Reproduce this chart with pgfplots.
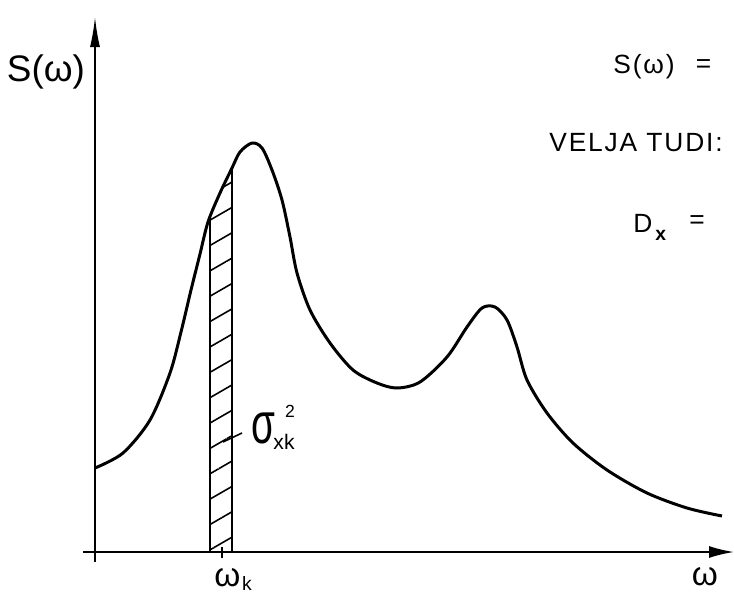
\documentclass[border=0pt]{standalone}
\usepackage{fontspec}
\setmainfont{Liberation Sans}
\newfontfamily\lettering[LetterSpace=7]{Liberation Sans}
\usepackage{pgfplots}
\pgfplotsset{compat=1.18}
\usetikzlibrary{arrows.meta,patterns.meta}
\begin{document}
\begin{tikzpicture}
\begin{axis}[
  name=main,
  width=14.68cm, height=11.9cm, scale only axis,
  xmin=-95, xmax=639, ymin=-43, ymax=552,
  hide axis, clip=false,
]
% hatched band sigma_xk^2
\addplot[draw=none, pattern={Lines[angle=30,distance=12.5pt,line width=0.9pt]}]
  coordinates {(115,0)(115,336)(125,359)(137,384)(137,0)} \closedcycle;
\addplot[line width=1.4pt] coordinates {(115,0)(115,336)};
\addplot[line width=1.4pt] coordinates {(137,0)(137,384)};
% axes
\addplot[line width=1pt, -{Latex[length=0.5cm,width=0.24cm]}] coordinates {(-12,0)(639,0)};
\addplot[line width=1pt, -{Latex[length=0.6cm,width=0.2cm]}] coordinates {(0,-10)(0,535)};
\addplot[line width=1.2pt] coordinates {(127,-6)(127,5)};
% spectral density
\addplot[line width=1.7pt, smooth, tension=0.5] coordinates {
(0,84)(28,99)(55,132)(75,179)(86,220)(96,262)(105,298)(113,330)(125,359)
(137,384)(145,400)(157,409)(167,404)(177,382)(187,352)(195,315)(202,279)
(215,242)(235,209)(258,182)(282,169)(302,164)(325,170)(352,195)(372,225)
(387,244)(400,245)(412,232)(422,205)(432,172)(452,139)(478,109)(512,82)
(552,59)(592,44)(627,36)};
% leader
\addplot[line width=0.9pt] coordinates {(128,110)(147,119)};
% labels
\node[font=\fontsize{21}{21}\selectfont] at (axis cs:-49,480) {S(ω)};
\node[font=\fontsize{19}{19}\selectfont] at (axis cs:132.5,-26) {ω};
\node[font=\fontsize{11}{11}\selectfont] at (axis cs:152,-31) {k};
\node[font=\fontsize{19}{19}\selectfont] at (axis cs:610,-25) {ω};
\node[font=\fontsize{22}{22}\selectfont] at (axis cs:168.5,124) {\scalebox{1}[1.5]{σ}};
\node[font=\fontsize{10}{10}\selectfont] at (axis cs:195,141) {2};
\node[font=\fontsize{12}{12}\selectfont] at (axis cs:189,110) {xk};
% right-hand text
\node[anchor=base west, font=\lettering\fontsize{15}{15}\selectfont, inner sep=0pt] at (axis cs:518,479) {S(ω)};
\node[font=\lettering\fontsize{15}{15}\selectfont, inner sep=0pt] at (axis cs:608.5,485.5) {=};
\node[anchor=base west, font=\lettering\fontsize{15}{15}\selectfont, inner sep=0pt] at (axis cs:454,401) {VELJA TUDI:};
\node[anchor=base west, font=\lettering\fontsize{15}{15}\selectfont, inner sep=0pt] at (axis cs:538,320) {D};
\node[anchor=base west, font=\fontsize{11}{11}\selectfont\bfseries, inner sep=0pt] at (axis cs:560,312) {x};
\node[font=\lettering\fontsize{15}{15}\selectfont, inner sep=0pt] at (axis cs:602,330) {=};
\end{axis}
\pgfresetboundingbox
\path (main.south west) rectangle (main.north east);
\end{tikzpicture}
\end{document}
